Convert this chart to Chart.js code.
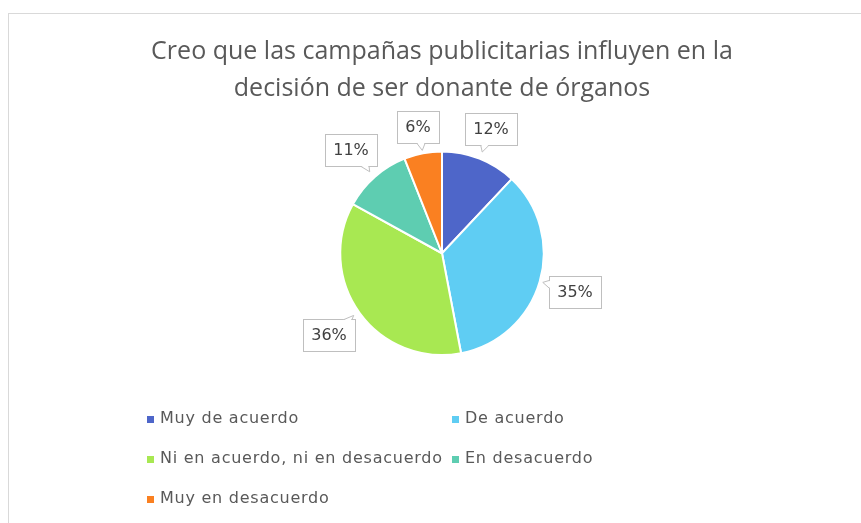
<!DOCTYPE html>
<html>
<head>
<meta charset="utf-8">
<script src="https://cdn.jsdelivr.net/npm/chart.js@4.4.0/dist/chart.umd.min.js"></script>
<style>
    html, body { margin: 0; padding: 0; background: #fff; }
    canvas { display: block; }
</style>
</head>
<body>
<canvas id="chart" width="861" height="523"></canvas>
<script>
    'use strict';

    var titleLines = ['Creo que las campañas publicitarias influyen en la', 'decisión de ser donante de órganos'];
    var categories = ['Muy de acuerdo', 'De acuerdo', 'Ni en acuerdo, ni en desacuerdo', 'En desacuerdo', 'Muy en desacuerdo'];
    var percentages = [12, 35, 36, 11, 6];
    var sliceColors = ['#4e66c9', '#5fcdf3', '#a8e852', '#5ecdb1', '#fa8021'];

    var textColor = '#595959';
    var legendFont = '16px "DejaVu Sans", sans-serif';
    var labelFont = '16px "DejaVu Sans", sans-serif';

    // outer frame of the chart object
    var framePlugin = {
        id: 'frame',
        beforeDraw: function (chart) {
            var ctx = chart.ctx;
            ctx.save();
            ctx.fillStyle = '#fff';
            ctx.fillRect(0, 0, chart.width, chart.height);
            ctx.strokeStyle = '#d9d9d9';
            ctx.lineWidth = 1;
            ctx.strokeRect(8.5, 13.5, chart.width + 20, chart.height + 20);
            ctx.restore();
        }
    };

    // percentage labels in callout boxes
    var calloutPlugin = {
        id: 'callouts',
        afterDatasetsDraw: function (chart) {
            var ctx = chart.ctx;
            var meta = chart.getDatasetMeta(0);
            var values = chart.data.datasets[0].data;
            ctx.save();
            ctx.font = labelFont;
            meta.data.forEach(function (arc, i) {
                var p = arc.getProps(['x', 'y', 'startAngle', 'endAngle', 'outerRadius'], true);
                var mid = (p.startAngle + p.endAngle) / 2;
                var ux = Math.cos(mid), uy = Math.sin(mid);
                var ax = p.x + ux * p.outerRadius;
                var ay = p.y + uy * p.outerRadius;
                var text = values[i] + '%';
                var hw = Math.round(ctx.measureText(text).width / 2 + 8);
                var hh = 16;
                var d = 7 + hw * Math.abs(ux) + hh * Math.abs(uy);
                var cx = Math.round(ax + ux * d), cy = Math.round(ay + uy * d);
                var left = cx - hw, top = cy - hh;

                ctx.fillStyle = '#fff';
                ctx.strokeStyle = '#bfbfbf';
                ctx.lineWidth = 1;
                ctx.fillRect(left, top, hw * 2, hh * 2);
                ctx.strokeRect(left + 0.5, top + 0.5, hw * 2, hh * 2);

                // tail pointing back to the slice
                var vx = ax - cx, vy = ay - cy;
                var len = Math.sqrt(vx * vx + vy * vy);
                vx /= len; vy /= len;
                var tSide = hw / Math.max(Math.abs(vx), 1e-6);
                var tTop = hh / Math.max(Math.abs(vy), 1e-6);
                var ex, ey, px, py;
                if (tSide < tTop) {
                    ex = vx > 0 ? left + hw * 2 + 0.5 : left + 0.5;
                    ey = Math.max(top + 7, Math.min(top + hh * 2 - 7, cy + vy * tSide));
                    px = 0; py = 1;
                } else {
                    ey = vy > 0 ? top + hh * 2 + 0.5 : top + 0.5;
                    ex = Math.max(left + 7, Math.min(left + hw * 2 - 7, cx + vx * tTop));
                    px = 1; py = 0;
                }
                var tx = ex + vx * 7, ty = ey + vy * 7;
                var b1x = ex + px * 4, b1y = ey + py * 4;
                var b2x = ex - px * 4, b2y = ey - py * 4;
                ctx.beginPath();
                ctx.moveTo(b1x - vx * 1.5, b1y - vy * 1.5);
                ctx.lineTo(tx, ty);
                ctx.lineTo(b2x - vx * 1.5, b2y - vy * 1.5);
                ctx.closePath();
                ctx.fill();
                ctx.beginPath();
                ctx.moveTo(b1x, b1y);
                ctx.lineTo(tx, ty);
                ctx.lineTo(b2x, b2y);
                ctx.stroke();

                ctx.fillStyle = '#404040';
                ctx.textAlign = 'center';
                ctx.textBaseline = 'middle';
                ctx.fillText(text, cx, cy + 1);
            });
            ctx.restore();
        }
    };

    // two-column legend under the pie
    var gridLegendPlugin = {
        id: 'gridLegend',
        afterDraw: function (chart) {
            var ctx = chart.ctx;
            var colors = chart.data.datasets[0].backgroundColor;
            var x0 = 147, colW = 305, y0 = 419, rowH = 40;
            ctx.save();
            ctx.font = legendFont;
            ctx.letterSpacing = '0.75px';
            ctx.textBaseline = 'middle';
            chart.data.labels.forEach(function (label, i) {
                var x = x0 + (i % 2) * colW;
                var y = y0 + Math.floor(i / 2) * rowH;
                ctx.fillStyle = colors[i];
                ctx.fillRect(x, y - 3, 7, 7);
                ctx.fillStyle = textColor;
                ctx.fillText(label, x + 13, y);
            });
            ctx.restore();
        }
    };

    new Chart(document.getElementById('chart'), {
        type: 'pie',
        data: {
            labels: categories,
            datasets: [{
                data: percentages,
                backgroundColor: sliceColors,
                borderColor: '#fff',
                borderWidth: 2
            }]
        },
        options: {
            responsive: false,
            animation: false,
            layout: { padding: { left: 30, right: 7, top: 0, bottom: 167 } },
            plugins: {
                legend: { display: false },
                tooltip: { enabled: false },
                title: {
                    display: true,
                    text: titleLines,
                    color: textColor,
                    font: { family: '"Open Sans", sans-serif', size: 25, weight: 'normal', lineHeight: 1.45 },
                    padding: { top: 34, bottom: 44 }
                }
            }
        },
        plugins: [framePlugin, calloutPlugin, gridLegendPlugin]
    });
</script>
</body>
</html>
